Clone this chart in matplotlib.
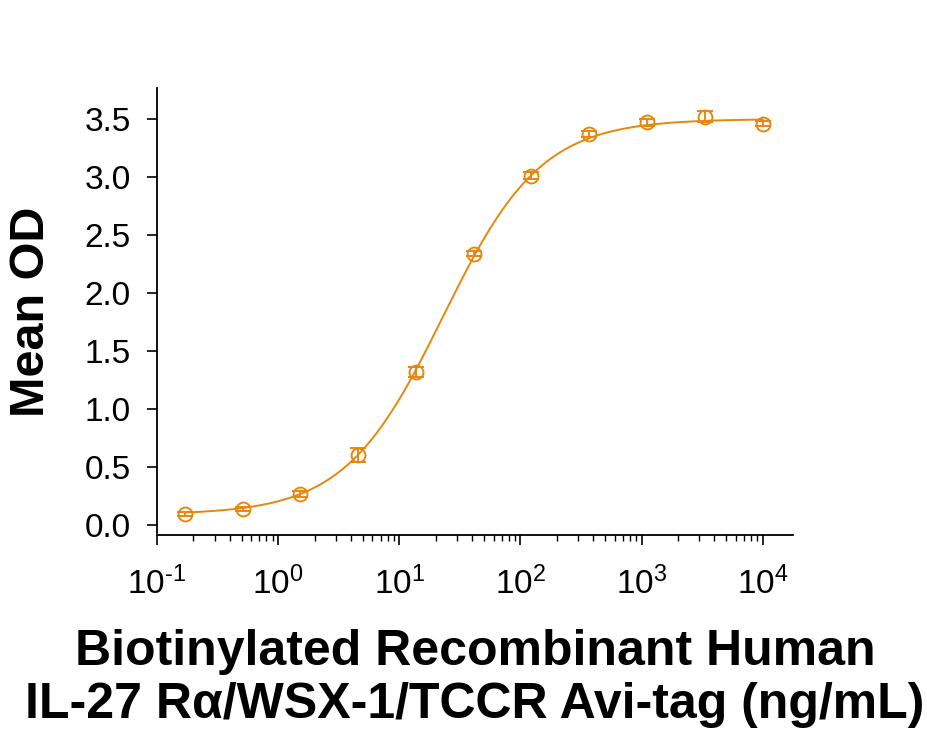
import numpy as np
import matplotlib
matplotlib.use("Agg")
import matplotlib.pyplot as plt
from matplotlib.ticker import LogLocator, NullFormatter, FixedLocator

# ---------------- DATA ----------------
conc = [0.169, 0.508, 1.52, 4.57, 13.7, 41.2, 123, 370, 1111, 3333, 10000]
mean_od = [0.095, 0.14, 0.27, 0.60, 1.32, 2.34, 3.01, 3.37, 3.47, 3.52, 3.46]
sem_od = [0.015, 0.02, 0.025, 0.06, 0.045, 0.025, 0.03, 0.025, 0.03, 0.05, 0.02]

# 4PL fit parameters
fit_bottom = 0.09
fit_top = 3.50
fit_ec50 = 22.9
fit_hill = 1.07

y_ticks = [0, 0.5, 1.0, 1.5, 2.0, 2.5, 3.0, 3.5]
y_ticklabels = ["0.0", "0.5", "1.0", "1.5", "2.0", "2.5", "3.0", "3.5"]
x_ticks = [0.1, 1, 10, 100, 1000, 10000]
x_exps = ["\u20101", "0", "1", "2", "3", "4"]

COLOR = "#E8870E"

plt.rcParams["font.family"] = ["Liberation Sans", "DejaVu Sans"]
plt.rcParams["mathtext.default"] = "regular"

fig = plt.figure(figsize=(9.27, 7.38), dpi=100)
ax = fig.add_axes([0.1694, 0.275, 0.686, 0.6058])

xs = np.logspace(np.log10(conc[0]), np.log10(conc[-1]), 400)
ys = fit_bottom + (fit_top - fit_bottom) / (1 + (fit_ec50 / xs) ** fit_hill)
ax.plot(xs, ys, color=COLOR, lw=1.4)

ax.errorbar(conc, mean_od, yerr=sem_od, fmt="o", mfc="none", mec=COLOR,
            ecolor=COLOR, ms=10, mew=1.4, elinewidth=1.4, capsize=6, capthick=1.4)

ax.set_xscale("log")
ax.set_xlim(0.1, 10 ** 4.25)
ax.set_ylim(-0.086, 3.767)
ax.spines["left"].set_bounds(-0.07, 3.767)
ax.spines["top"].set_visible(False)
ax.spines["right"].set_visible(False)
for s in ("left", "bottom"):
    ax.spines[s].set_linewidth(1.3)

ax.set_yticks(y_ticks)
ax.set_yticklabels(y_ticklabels)
ax.xaxis.set_major_locator(FixedLocator(x_ticks))
ax.set_xticklabels(["10$^{\\mathdefault{%s}}$" % e for e in x_exps])
ax.xaxis.set_minor_locator(LogLocator(base=10, subs=np.arange(2, 10), numticks=20))
ax.xaxis.set_minor_formatter(NullFormatter())
ax.tick_params(axis="both", which="major", labelsize=24, length=7, width=1.2)
ax.tick_params(axis="y", which="major", pad=12)
ax.tick_params(axis="x", which="major", pad=16)
ax.tick_params(axis="x", which="minor", length=4, width=1.0)

ax.set_ylabel("Mean OD", fontsize=35, fontweight="bold", labelpad=22)
ax.set_xlabel("Biotinylated Recombinant Human\nIL-27 R\u03b1/WSX-1/TCCR Avi-tag (ng/mL)",
              fontsize=36, fontweight="bold", labelpad=20, linespacing=1.2)

fig.savefig("out.png", dpi=100)
